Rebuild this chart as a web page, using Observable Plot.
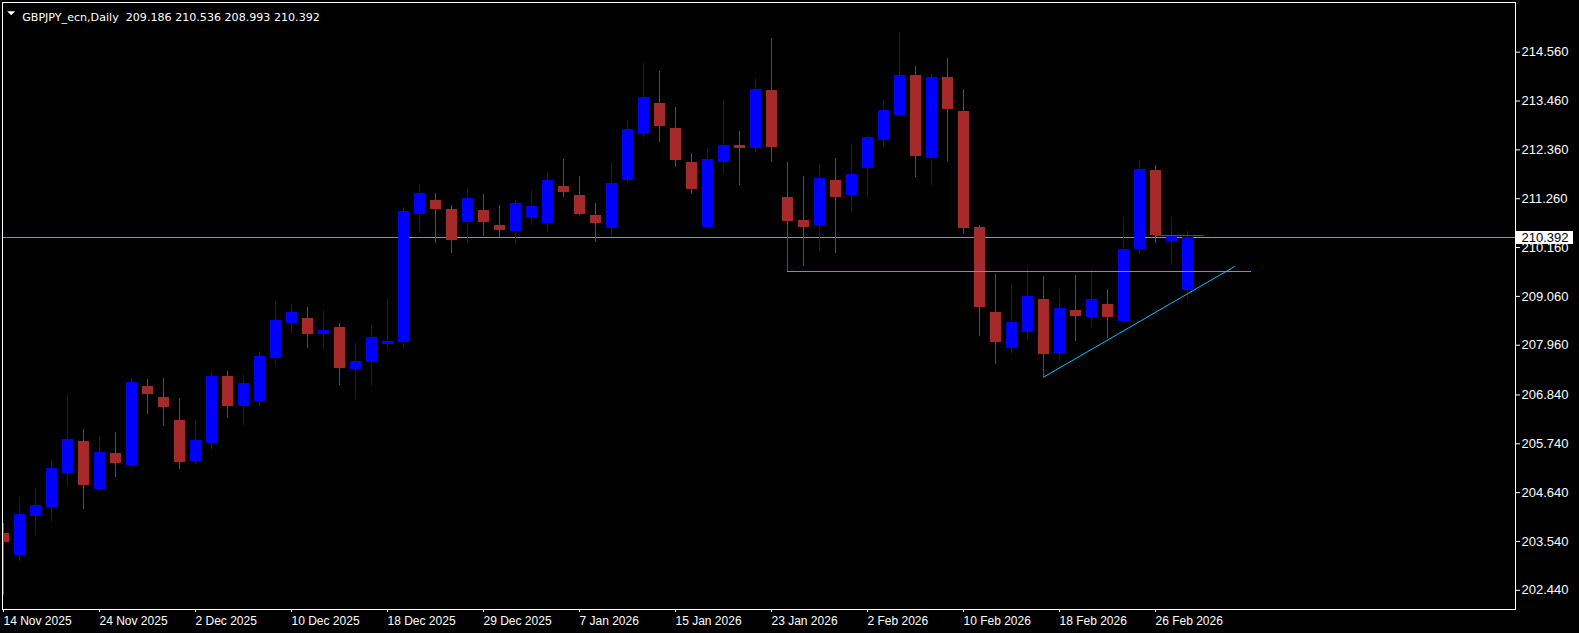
<!DOCTYPE html>
<html>
<head>
<meta charset="utf-8">
<script src="https://cdn.jsdelivr.net/npm/d3@7"></script>
<script src="https://cdn.jsdelivr.net/npm/@observablehq/plot@0.6"></script>
<style>
html, body { margin: 0; padding: 0; background: #000; overflow: hidden; }
#chart svg { display: block; }
</style>
</head>
<body>
<div id="chart"></div>
<script>
// ---------- data ----------
const symbol = "GBPJPY_ecn";
const timeframe = "Daily";

const dates = [
  "2025-11-14","2025-11-17","2025-11-18","2025-11-19","2025-11-20","2025-11-21",
  "2025-11-24","2025-11-25","2025-11-26","2025-11-27","2025-11-28",
  "2025-12-01","2025-12-02","2025-12-03","2025-12-04","2025-12-05",
  "2025-12-08","2025-12-09","2025-12-10","2025-12-11","2025-12-12",
  "2025-12-15","2025-12-16","2025-12-17","2025-12-18","2025-12-19",
  "2025-12-22","2025-12-23","2025-12-24","2025-12-26",
  "2025-12-29","2025-12-30","2025-12-31","2026-01-02",
  "2026-01-05","2026-01-06","2026-01-07","2026-01-08","2026-01-09",
  "2026-01-12","2026-01-13","2026-01-14","2026-01-15","2026-01-16",
  "2026-01-19","2026-01-20","2026-01-21","2026-01-22","2026-01-23",
  "2026-01-26","2026-01-27","2026-01-28","2026-01-29","2026-01-30",
  "2026-02-02","2026-02-03","2026-02-04","2026-02-05","2026-02-06",
  "2026-02-09","2026-02-10","2026-02-11","2026-02-12","2026-02-13",
  "2026-02-16","2026-02-17","2026-02-18","2026-02-19","2026-02-20",
  "2026-02-23","2026-02-24","2026-02-25","2026-02-26","2026-02-27",
  "2026-03-02"
];

const open = [
  203.72,203.22,204.11,204.31,205.07,205.79,
  204.70,205.52,205.24,207.03,206.78,
  206.27,205.35,205.75,207.26,206.59,
  206.69,207.67,208.45,208.56,208.21,
  208.36,207.41,207.57,207.98,208.02,
  210.91,211.22,211.02,210.72,
  210.99,210.66,210.52,210.84,
  210.70,211.54,211.33,210.88,210.59,
  211.68,212.73,213.40,212.84,212.08,
  210.62,212.08,212.46,212.38,213.70,
  211.29,210.77,210.66,211.67,211.33,
  211.95,212.58,213.13,214.03,212.17,
  213.99,213.22,210.61,208.70,207.89,
  208.25,208.99,207.78,208.74,208.59,
  208.88,208.50,210.12,211.90,210.30,
  209.186
];
const high = [
  203.95,204.54,204.73,205.36,206.86,206.06,
  205.90,205.99,207.21,207.19,207.21,
  206.76,206.27,207.35,207.37,207.30,
  207.82,208.95,208.88,208.81,208.74,
  208.45,208.00,208.40,209.01,211.06,
  211.59,211.38,211.11,211.51,
  211.36,211.11,211.22,211.45,
  211.85,212.14,211.76,211.15,212.08,
  213.02,214.31,214.13,213.31,212.28,
  212.39,213.49,212.77,213.97,214.87,
  212.08,211.76,212.03,212.17,212.48,
  212.68,213.47,215.00,214.24,214.06,
  214.42,213.72,210.66,209.55,209.33,
  209.69,209.51,209.22,209.53,209.67,
  209.22,210.84,212.12,212.00,210.84,
  210.536
];
const low = [
  202.32,203.09,203.67,203.97,204.78,204.26,
  204.68,204.99,205.19,206.41,206.14,
  205.17,205.28,205.60,206.32,206.16,
  206.58,207.49,208.20,207.89,207.84,
  207.05,206.74,207.03,207.84,207.86,
  210.48,210.26,210.03,210.25,
  210.41,210.38,210.23,210.66,
  210.50,211.29,210.88,210.27,210.39,
  211.60,212.62,212.53,211.97,211.36,
  210.60,211.81,211.56,212.31,212.08,
  209.62,209.74,210.06,210.03,210.96,
  211.27,212.42,213.10,211.74,211.56,
  212.10,210.46,208.16,207.53,207.74,
  208.07,207.24,207.60,208.05,208.37,
  208.12,208.43,209.97,210.26,209.76,
  208.993
];
const close = [
  203.52,204.15,204.35,205.18,205.84,204.80,
  205.54,205.30,207.12,206.86,206.56,
  205.33,205.81,207.26,206.59,207.10,
  207.71,208.52,208.70,208.21,208.29,
  207.44,207.59,208.13,208.04,210.97,
  211.38,211.02,210.32,211.26,
  210.72,210.54,211.15,211.08,
  211.67,211.40,210.90,210.70,211.60,
  212.82,213.54,212.89,212.13,211.47,
  212.14,212.46,212.40,213.72,212.42,
  210.75,210.61,211.72,211.29,211.81,
  212.64,213.25,214.03,212.22,213.99,
  213.28,210.60,208.82,208.03,208.47,
  209.06,207.74,208.79,208.61,208.99,
  208.59,210.12,211.92,210.44,210.42,
  210.392
];

const yTickValues = [214.560, 213.460, 212.360, 211.260, 210.160, 209.060,
                     207.960, 206.840, 205.740, 204.640, 203.540, 202.440];

const xTickDates = ["2025-11-14","2025-11-24","2025-12-02","2025-12-10","2025-12-18",
                    "2025-12-29","2026-01-07","2026-01-15","2026-01-23","2026-02-02",
                    "2026-02-10","2026-02-18","2026-02-26"];
const xTickLabels = ["14 Nov 2025","24 Nov 2025","2 Dec 2025","10 Dec 2025","18 Dec 2025",
                     "29 Dec 2025","7 Jan 2026","15 Jan 2026","23 Jan 2026","2 Feb 2026",
                     "10 Feb 2026","18 Feb 2026","26 Feb 2026"];

// user-drawn objects (bar index, price)
const levelLine = [{bar: 49, price: 209.62}, {bar: 77.95, price: 209.62}];
const trendLine = [{bar: 65, price: 207.24}, {bar: 76.93, price: 209.73}];
const redLine   = [{bar: 72, price: 210.44}, {bar: 74.95, price: 210.44}];

// ---------- build ----------
const BULL = "#0000ff";
const BEAR = "#a52a2a";
const candles = dates.map((d, i) => ({i, date: d, open: open[i], high: high[i], low: low[i], close: close[i]}));
const ups = candles.filter(c => c.close >= c.open);
const downs = candles.filter(c => c.close < c.open);
const last = candles[candles.length - 1];
const xTickIdx = xTickDates.map(d => dates.indexOf(d));
const labelOf = new Map(xTickIdx.map((ix, k) => [ix, xTickLabels[k]]));
const half = 0.34375;
const title = `${symbol},${timeframe}\u00a0 ${last.open.toFixed(3)} ${last.high.toFixed(3)} ${last.low.toFixed(3)} ${last.close.toFixed(3)}`;
const FONT = "'Liberation Sans', Arial, sans-serif";
const TITLE_FONT = "'DejaVu Sans', Verdana, sans-serif";

const downTriangle = {
  draw(ctx) { ctx.moveTo(-4, -2); ctx.lineTo(4, -2); ctx.lineTo(0, 2); ctx.closePath(); }
};

function priceTag(index, scales, values, dimensions) {
  const ns = "http://www.w3.org/2000/svg";
  const g = document.createElementNS(ns, "g");
  const y = Math.round(scales.y(last.close));
  const x0 = dimensions.width - dimensions.marginRight + 1;
  const r = document.createElementNS(ns, "rect");
  r.setAttribute("x", x0); r.setAttribute("y", y - 6);
  r.setAttribute("width", 57); r.setAttribute("height", 13);
  r.setAttribute("fill", "#fff");
  g.appendChild(r);
  const t = document.createElementNS(ns, "text");
  t.setAttribute("x", x0 + 5.5); t.setAttribute("y", y + 5);
  t.setAttribute("fill", "#000");
  t.setAttribute("text-anchor", "start");
  t.setAttribute("font-size", 13);
  t.setAttribute("font-family", FONT);
  t.textContent = last.close.toFixed(3);
  g.appendChild(t);
  return g;
}

const chart = Plot.plot({
  width: 1579,
  height: 633,
  marginLeft: 2,
  marginRight: 64,
  marginTop: 2,
  marginBottom: 24,
  x: {domain: [-0.0625, 94.5], label: null},
  y: {domain: [202.008, 215.679], label: null},
  style: {background: "#000", color: "#fff", fontFamily: FONT, fontSize: "12px"},
  marks: [
    // bid line
    Plot.ruleY([last.close], {stroke: "#8c949c", strokeWidth: 1, shapeRendering: "crispEdges"}),
    // wicks
    Plot.ruleX(ups, {x: "i", y1: "low", y2: "high", stroke: BULL, strokeWidth: 1, shapeRendering: "crispEdges", clip: true}),
    Plot.ruleX(downs, {x: "i", y1: "low", y2: "high", stroke: BEAR, strokeWidth: 1, shapeRendering: "crispEdges", clip: true}),
    // bodies
    Plot.rect(ups, {x1: d => d.i - half, x2: d => d.i + half, y1: "open", y2: "close", fill: BULL, shapeRendering: "crispEdges", clip: true}),
    Plot.rect(downs, {x1: d => d.i - half, x2: d => d.i + half, y1: "open", y2: "close", fill: BEAR, shapeRendering: "crispEdges", clip: true}),
    // drawn objects
    Plot.line(levelLine, {x: "bar", y: "price", stroke: "#00bfff", strokeWidth: 1, shapeRendering: "crispEdges"}),
    Plot.line(trendLine, {x: "bar", y: "price", stroke: "#00bfff", strokeWidth: 1}),
    Plot.line(redLine, {x: "bar", y: "price", stroke: "#ff0000", strokeWidth: 1, shapeRendering: "crispEdges"}),
    // frame
    Plot.frame({stroke: "#fff", strokeWidth: 1, shapeRendering: "crispEdges"}),
    // axes
    Plot.axisY(yTickValues, {anchor: "right", tickSize: 4, tickPadding: 2, tickFormat: d => d.toFixed(3), fontSize: 13, label: null}),
    Plot.axisX(xTickIdx, {anchor: "bottom", tickSize: 3, tickPadding: 4, tickFormat: i => labelOf.get(i), textAnchor: "start", fontSize: 12, label: null}),
    // title
    Plot.dot([title], {frameAnchor: "top-left", dx: 8.7, dy: 10.7, symbol: downTriangle, fill: "#fff", stroke: null, r: 4}),
    Plot.text([title], {text: d => d, frameAnchor: "top-left", dx: 19.7, dy: 10.9, textAnchor: "start", fill: "#fff", fontSize: 11.1, fontFamily: TITLE_FONT}),
    priceTag
  ]
});
document.getElementById("chart").appendChild(chart);
</script>
</body>
</html>
